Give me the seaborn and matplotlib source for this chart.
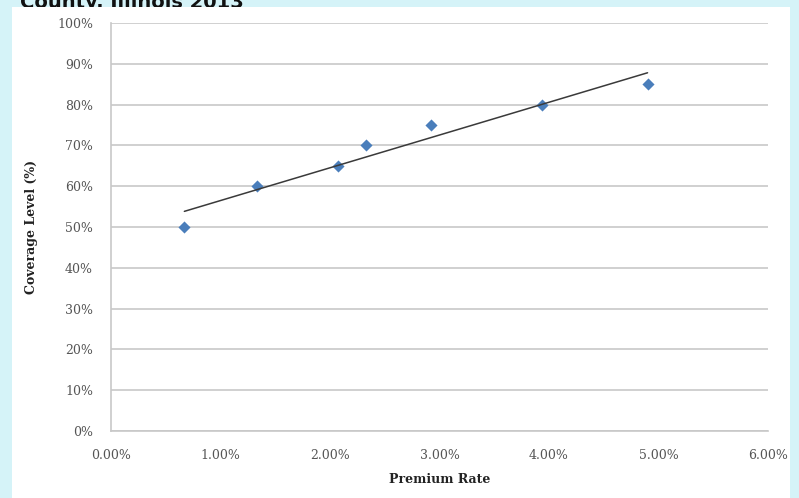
import matplotlib
matplotlib.use("Agg")
import matplotlib.pyplot as plt
import matplotlib.ticker as mtick
from matplotlib.patches import Rectangle
import seaborn as sns
import pandas as pd

# premium rate (%) vs coverage level (%)
premium_rate = [0.67, 1.33, 2.07, 2.33, 2.92, 3.94, 4.90]
coverage_level = [50, 60, 65, 70, 75, 80, 85]
title_text = "County, Illinois 2013"

df = pd.DataFrame({"rate": premium_rate, "cov": coverage_level})

sns.set_style("white")
plt.rcParams["font.family"] = ["DejaVu Serif"]

W, H = 799, 498
fig = plt.figure(figsize=(W / 100, H / 100), dpi=100)
fig.patch.set_facecolor("#d5f3f8")

# title sits mostly above the crop, the white panel hides its lower part
fig.text(20 / W, 1 - 8 / H, title_text, family="DejaVu Sans", fontweight="bold",
         fontsize=14, color="#111111", va="baseline", ha="left", zorder=0.5)
fig.patches.append(Rectangle((12 / W, 0), (790 - 12) / W, (H - 7) / H,
                             transform=fig.transFigure, facecolor="white",
                             edgecolor="none", zorder=1))

ax = fig.add_axes([111 / W, (H - 431) / H, (768 - 111) / W, (431 - 23) / H])
ax.set_zorder(2)
ax.patch.set_alpha(0)

sns.regplot(data=df, x="rate", y="cov", ax=ax, ci=None, truncate=True,
            marker="D",
            scatter_kws={"s": 38, "color": "#4a7ebb", "alpha": 1, "zorder": 3, "linewidths": 0},
            line_kws={"color": "#3a3a3a", "lw": 1.1, "zorder": 4})

ax.set_xlim(0, 6)
ax.set_ylim(0, 100)
ax.set_xticks(range(0, 7))
ax.set_yticks(range(0, 101, 10))
ax.xaxis.set_major_formatter(mtick.FuncFormatter(lambda v, p: f"{v:.2f}%"))
ax.yaxis.set_major_formatter(mtick.FuncFormatter(lambda v, p: f"{v:.0f}%"))
ax.tick_params(axis="both", length=0, labelsize=9, labelcolor="#555555")
ax.tick_params(axis="y", pad=13)
ax.tick_params(axis="x", pad=13)

ax.grid(axis="y", color="#c8c8c8", lw=1.2)
ax.set_axisbelow(True)
for s in ["top", "right"]:
    ax.spines[s].set_visible(False)
ax.spines["left"].set_color("#c8c8c8")
ax.spines["bottom"].set_color("#c8c8c8")
ax.spines["left"].set_linewidth(1.2)
ax.spines["bottom"].set_linewidth(1.2)

ax.set_xlabel("Premium Rate", fontsize=9, fontweight="bold", color="#222222", labelpad=8)
ax.set_ylabel("Coverage Level (%)", fontsize=9, fontweight="bold", color="#222222", labelpad=14)

fig.savefig("out.png", dpi=100, facecolor=fig.get_facecolor())
plt.close(fig)
